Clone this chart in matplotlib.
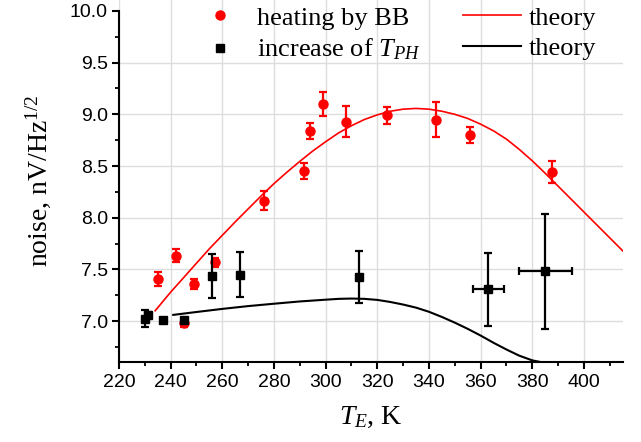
import matplotlib
matplotlib.use("Agg")
import matplotlib.pyplot as plt
from matplotlib.ticker import MultipleLocator
from matplotlib.lines import Line2D

# ---- data ----
bb_T = [235.0, 242.0, 245.2, 248.9, 257.0, 276.0, 291.8, 293.9, 299.0, 307.7, 323.9, 342.8, 356.0, 387.7]
bb_V = [7.405, 7.633, 6.98, 7.36, 7.57, 8.165, 8.452, 8.84, 9.10, 8.93, 8.99, 8.95, 8.80, 8.445]
bb_err = [0.067, 0.063, 0.04, 0.05, 0.042, 0.095, 0.078, 0.079, 0.12, 0.15, 0.082, 0.168, 0.073, 0.105]

ph_T = [230.1, 231.1, 236.9, 245.2, 256.0, 266.7, 312.9, 363.0, 385.0]
ph_V = [7.023, 7.06, 7.013, 7.006, 7.435, 7.45, 7.426, 7.306, 7.48]
ph_yerr = [0.085, 0.03, 0.02, 0.025, 0.215, 0.22, 0.255, 0.355, 0.555]
ph_xerr = [0, 0, 0, 0, 0, 0, 0, 6.1, 10.2]

thBB_T = [234, 240, 245, 250, 255, 260, 265, 270, 275, 280, 285, 290, 295, 300, 305, 310,
          315, 320, 325, 330, 335, 340, 345, 350, 355, 360, 365, 370, 375, 380, 385, 390,
          395, 400, 405, 410, 415]
thBB_V = [7.10, 7.28, 7.42, 7.56, 7.70, 7.83, 7.96, 8.085, 8.21, 8.33, 8.44, 8.545, 8.645, 8.735,
          8.82, 8.89, 8.95, 8.995, 9.03, 9.05, 9.057, 9.05, 9.03, 9.00, 8.96, 8.905, 8.84, 8.76,
          8.66, 8.55, 8.43, 8.305, 8.18, 8.055, 7.93, 7.805, 7.68]

thPH_T = [241, 250, 260, 270, 280, 290, 300, 305, 310, 315, 320, 325, 330, 335, 340, 345, 350,
          355, 360, 365, 370, 375, 380, 385]
thPH_V = [7.06, 7.088, 7.118, 7.145, 7.168, 7.19, 7.207, 7.215, 7.218, 7.215, 7.205, 7.185, 7.16,
          7.13, 7.09, 7.04, 6.985, 6.925, 6.86, 6.79, 6.725, 6.665, 6.62, 6.595]

xticks = [220, 240, 260, 280, 300, 320, 340, 360, 380, 400]
yticks = [7.0, 7.5, 8.0, 8.5, 9.0, 9.5, 10.0]

plt.rcParams['mathtext.fontset'] = 'custom'
plt.rcParams['mathtext.rm'] = 'Liberation Serif'
plt.rcParams['mathtext.it'] = 'Liberation Serif:italic'

fig = plt.figure(figsize=(6.41, 4.42), dpi=100)
ax = fig.add_axes([119/641, 0.180, (622.7-119)/641, 0.820])

ax.plot(thBB_T, thBB_V, color='#ff0000', lw=1.2, zorder=3)
ax.plot(thPH_T, thPH_V, color='black', lw=1.5, zorder=3)

ax.errorbar(bb_T, bb_V, yerr=bb_err, fmt='o', color='#ff0000', ms=6.5,
            elinewidth=1.6, capsize=2.6, capthick=1.6, zorder=4)
ax.errorbar(ph_T, ph_V, yerr=ph_yerr, xerr=ph_xerr, fmt='s', color='black', ms=5.5,
            elinewidth=1.6, capsize=2.8, capthick=1.6, zorder=5)

ax.set_xlim(220, 415)
ax.set_ylim(6.6, 10.106)
ax.set_xticks(xticks)
ax.set_yticks(yticks)
ax.set_yticklabels([f"{v:.1f}" for v in yticks])
ax.xaxis.set_minor_locator(MultipleLocator(10))
ax.yaxis.set_minor_locator(MultipleLocator(0.25))

for s in ['top', 'right']:
    ax.spines[s].set_visible(False)
for s in ['left', 'bottom']:
    ax.spines[s].set_linewidth(1.5)
ax.spines['left'].set_bounds(6.6, 10.0)

ax.tick_params(which='major', direction='out', length=5, width=1.5, labelsize=14, pad=3)
ax.tick_params(which='minor', direction='out', length=3, width=1.3)
for lab in ax.get_xticklabels() + ax.get_yticklabels():
    lab.set_fontfamily('Liberation Sans')

ax.grid(True, which='major', color='#dddddd', lw=1.0, zorder=0)
ax.set_axisbelow(True)
for tick in ax.yaxis.get_major_ticks():
    if abs(tick.get_loc() - 10.0) < 1e-6:
        tick.gridline.set_visible(False)

ax.set_xlabel("$T_E$, K", fontsize=20, family='Liberation Serif', labelpad=10)
ax.set_ylabel("noise, nV/Hz$^{\\mathit{1/2}}$", fontsize=20, family='Liberation Serif', labelpad=12)

h1 = Line2D([], [], ls='none', marker='o', color='#ff0000', ms=6.5)
h2 = Line2D([], [], ls='none', marker='s', color='black', ms=5.5)
h3 = Line2D([], [], color='#ff0000', lw=1.2)
h4 = Line2D([], [], color='black', lw=1.5)
leg = fig.legend([h1, h2, h3, h4],
                 ["heating by BB", "increase of $T_{PH}$", "theory", "theory"],
                 ncol=2, loc='upper left', bbox_to_anchor=(191/641, 0.986),
                 frameon=False, borderpad=0, borderaxespad=0,
                 handlelength=2.2, handletextpad=0.3, columnspacing=1.6,
                 labelspacing=0.27, prop={'family': 'Liberation Serif', 'size': 19})

fig.savefig("out.png", dpi=100)
